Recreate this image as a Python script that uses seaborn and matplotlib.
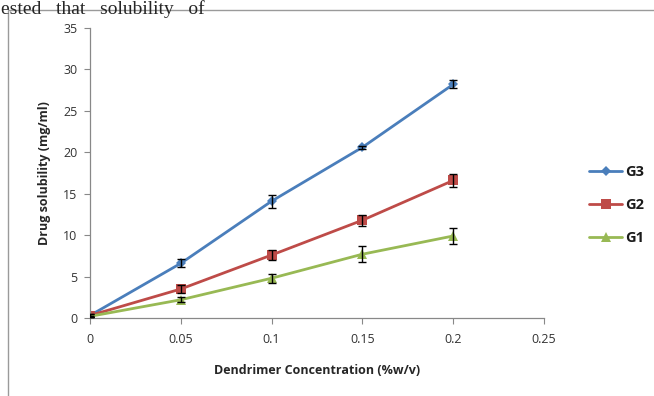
import matplotlib
matplotlib.use("Agg")
import matplotlib.pyplot as plt
import seaborn as sns
import numpy as np
import pandas as pd
from matplotlib.patches import Rectangle

conc = [0, 0.05, 0.1, 0.15, 0.2]
g3 = [0.3, 6.6, 14.1, 20.6, 28.2]
g3_err = [0.2, 0.5, 0.8, 0.2, 0.5]
g2 = [0.3, 3.5, 7.6, 11.8, 16.6]
g2_err = [0.2, 0.5, 0.65, 0.65, 0.75]
g1 = [0.2, 2.2, 4.8, 7.7, 9.9]
g1_err = [0.1, 0.3, 0.55, 0.95, 1.0]

series = ["G3", "G2", "G1"]
df = pd.DataFrame({
    "conc": conc * 3,
    "sol": g3 + g2 + g1,
    "err": g3_err + g2_err + g1_err,
    "gen": [s for s in series for _ in conc],
})

palette = {"G3": "#4A7EBB", "G2": "#BE4B48", "G1": "#98B954"}
markers = {"G3": "D", "G2": "s", "G1": "^"}
msizes = {"G3": 5, "G2": 7, "G1": 7}

sns.set_style("white")
plt.rcParams["font.family"] = ["Open Sans", "DejaVu Sans"]

fig = plt.figure(figsize=(6.54, 3.96), dpi=100)
ax = fig.add_axes([90 / 654, 1 - 318 / 396, (544 - 90) / 654, (318 - 28) / 396])

for g in series:
    d = df[df.gen == g]
    sns.lineplot(data=d, x="conc", y="sol", ax=ax, color=palette[g],
                 marker=markers[g], markersize=msizes[g], markeredgewidth=0,
                 linewidth=2, label=g, zorder=2)
    ax.errorbar(d.conc, d.sol, yerr=d.err, fmt="none", ecolor="black",
                elinewidth=1, capsize=3, capthick=1, zorder=3)

ax.set_xlim(0, 0.25)
ax.set_ylim(0, 35)
ax.set_xticks([0, 0.05, 0.1, 0.15, 0.2, 0.25])
ax.set_xticklabels(["0", "0.05", "0.1", "0.15", "0.2", "0.25"])
ax.set_yticks(range(0, 36, 5))
ax.tick_params(axis="both", labelsize=9, length=4, width=0.8,
               direction="out", bottom=True, left=True,
               colors="#888888", labelcolor="#333333")
ax.tick_params(axis="x", pad=7)
ax.tick_params(axis="y", pad=5)
for side in ["top", "right"]:
    ax.spines[side].set_visible(False)
for side in ["left", "bottom"]:
    ax.spines[side].set_color("#888888")
    ax.spines[side].set_linewidth(0.9)

ax.set_xlabel("Dendrimer Concentration (%w/v)", fontsize=9, fontweight="bold",
              color="#262626", labelpad=13)
ax.set_ylabel("Drug solubility (mg/ml)", fontsize=9, fontweight="bold",
              color="#262626", labelpad=9)

leg = ax.legend(loc="center left", bbox_to_anchor=(1.07, 0.39), frameon=False,
                fontsize=10.5, handlelength=2.3, labelspacing=1.3,
                handletextpad=0.2)
for t in leg.get_texts():
    t.set_fontweight("bold")
    t.set_color("#1a1a1a")

fig.patches.append(Rectangle((8 / 654, -0.1), 1.0, 1 - 10 / 396 + 0.1,
                             transform=fig.transFigure, fill=False,
                             edgecolor="#9a9a9a", linewidth=1))
fig.text(0.002, 0.999, "ested   that   solubility   of", fontsize=14,
         family="Liberation Serif", va="top", ha="left")

fig.savefig("out.png", dpi=100)
